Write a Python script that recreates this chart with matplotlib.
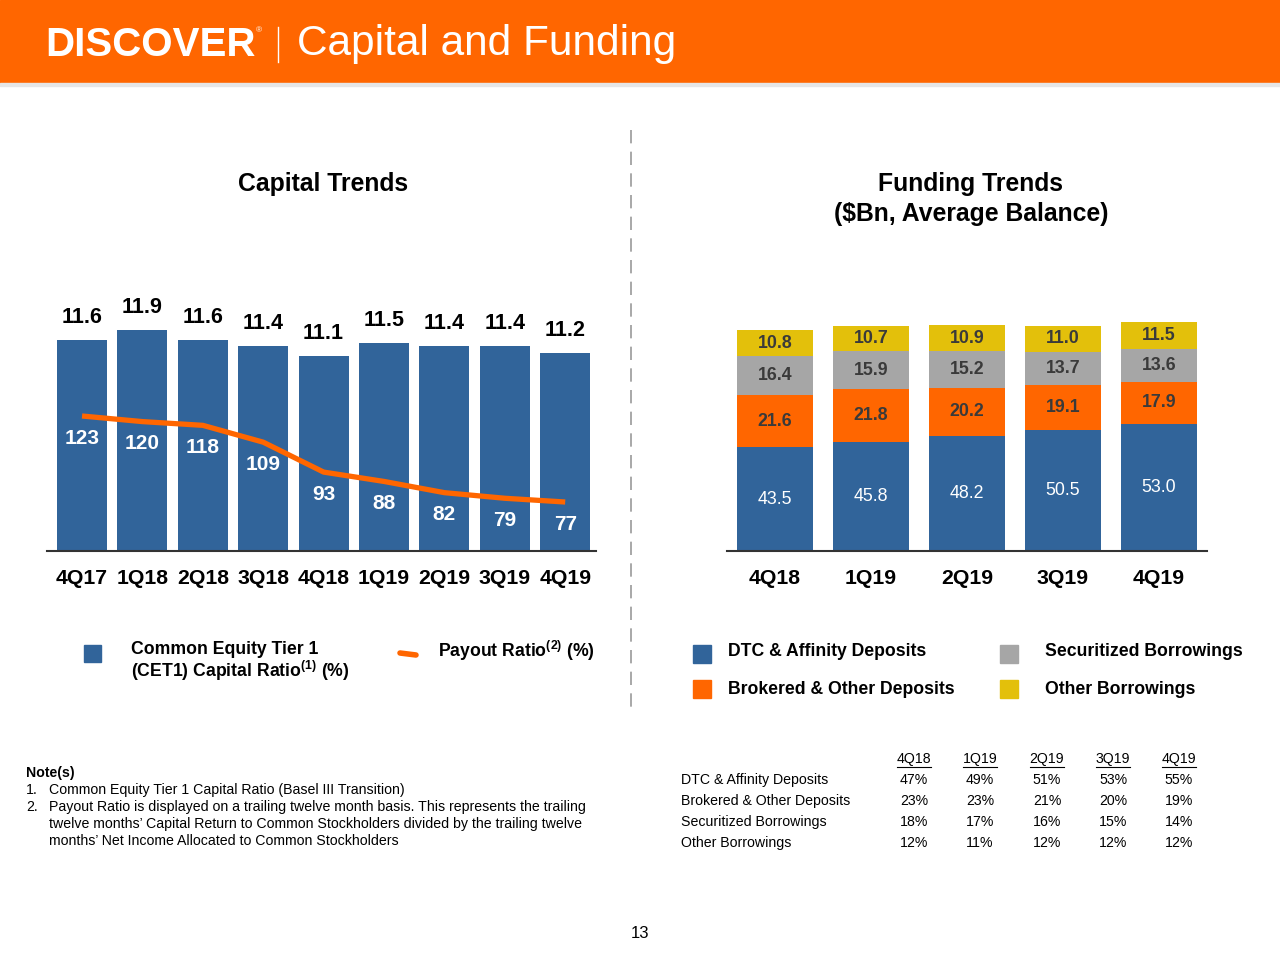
import matplotlib
matplotlib.use('Agg')
import matplotlib.pyplot as plt
from matplotlib.patches import Rectangle
from matplotlib.lines import Line2D

plt.rcParams['font.family'] = ['Liberation Sans', 'DejaVu Sans']
plt.rcParams['mathtext.fontset'] = 'custom'
plt.rcParams['mathtext.bf'] = 'Liberation Sans:bold'
plt.rcParams['mathtext.rm'] = 'Liberation Sans'
plt.rcParams['mathtext.default'] = 'bf'

# ---------------- data ----------------
cap_quarters = ['4Q17', '1Q18', '2Q18', '3Q18', '4Q18', '1Q19', '2Q19', '3Q19', '4Q19']
cet1_ratio = [11.6, 11.9, 11.6, 11.4, 11.1, 11.5, 11.4, 11.4, 11.2]
payout_ratio = [123, 120, 118, 109, 93, 88, 82, 79, 77]

fund_quarters = ['4Q18', '1Q19', '2Q19', '3Q19', '4Q19']
dtc_deposits = [43.5, 45.8, 48.2, 50.5, 53.0]
brokered_deposits = [21.6, 21.8, 20.2, 19.1, 17.9]
securitized_borrowings = [16.4, 15.9, 15.2, 13.7, 13.6]
other_borrowings = [10.8, 10.7, 10.9, 11.0, 11.5]

mix_rows = ['DTC & Affinity Deposits', 'Brokered & Other Deposits',
            'Securitized Borrowings', 'Other Borrowings']
mix_dtc = ['47%', '49%', '51%', '53%', '55%']
mix_brokered = ['23%', '23%', '21%', '20%', '19%']
mix_securitized = ['18%', '17%', '16%', '15%', '14%']
mix_other = ['12%', '11%', '12%', '12%', '12%']

# ---------------- style ----------------
BLUE = '#31649A'
ORANGE = '#FF6600'
GRAY = '#A6A6A6'
YELLOW = '#E3C00B'
DARK = '#3A3A3A'

W, H = 1280, 960
fig = plt.figure(figsize=(12.8, 9.6), dpi=100)


def fx(x):
    return x / W


def fy(y):
    return 1 - y / H


def ax_rect(l, t, r, b):
    return [fx(l), fy(b), (r - l) / W, (b - t) / H]


# ---------------- header ----------------
fig.patches.append(Rectangle((0, fy(83)), 1, 83 / H, transform=fig.transFigure,
                             color=ORANGE, zorder=0))
fig.patches.append(Rectangle((0, fy(86)), 1, 3 / H, transform=fig.transFigure,
                             color='#E6E6E6', zorder=0))
fig.text(fx(45), fy(45), 'DISCOVER', color='white', fontsize=29, fontweight='bold',
         ha='left', va='center')
fig.text(fx(256), fy(31), '®', color='white', fontsize=6, ha='left', va='center')
fig.lines.append(Line2D([fx(278), fx(278)], [fy(27), fy(62)], transform=fig.transFigure,
                        color='white', lw=1))
fig.text(fx(297), fy(44), 'Capital and Funding', color='white', fontsize=30.5,
         ha='left', va='center')

# ---------------- section titles & divider ----------------
fig.text(fx(323), fy(184), 'Capital Trends', fontsize=17.8, fontweight='bold',
         ha='center', va='center', color='black')
fig.text(fx(971), fy(184), 'Funding Trends', fontsize=17.8, fontweight='bold',
         ha='center', va='center', color='black')
fig.text(fx(971), fy(214), '($Bn, Average Balance)', fontsize=17.8, fontweight='bold',
         ha='center', va='center', color='black')
fig.lines.append(Line2D([fx(631), fx(631)], [fy(130), fy(712)], transform=fig.transFigure,
                        color='#999999', lw=1.2, dashes=(8, 5)))

# ---------------- left chart: capital trends ----------------
axL = fig.add_axes(ax_rect(47, 300, 596, 551))
xL = list(range(len(cap_quarters)))
axL.bar(xL, cet1_ratio, width=0.83, color=BLUE, zorder=2)
axL.set_xlim(-0.58, 8.51)
axL.set_ylim(5.1, 12.82)
for x, v in zip(xL, cet1_ratio):
    axL.annotate(f'{v:.1f}', (x, v), xytext=(0, 16), textcoords='offset points',
                 ha='center', va='center', fontsize=15.5, fontweight='bold', color='black')
axL.set_xticks(xL)
axL.set_xticklabels(cap_quarters, fontsize=15.3, fontweight='bold')
axL.tick_params(axis='x', length=0, pad=13)
axL.set_yticks([])
for s in ['top', 'left', 'right']:
    axL.spines[s].set_visible(False)
axL.spines['bottom'].set_color('#333333')
axL.spines['bottom'].set_linewidth(1.5)
axL.spines['bottom'].set_zorder(5)
axL.patch.set_alpha(0)

axL2 = axL.twinx()
axL2.set_ylim((646 - 551) / 1.87, (646 - 300) / 1.87)
axL2.plot(xL, payout_ratio, color=ORANGE, lw=3.8, solid_capstyle='butt', zorder=3)
for x, v in zip(xL, payout_ratio):
    axL2.annotate(f'{v}', (x, v), xytext=(0, -16), textcoords='offset points',
                  ha='center', va='center', fontsize=15, fontweight='bold', color='white')
axL2.set_yticks([])
for s in ['top', 'left', 'right', 'bottom']:
    axL2.spines[s].set_visible(False)

# left legend
fig.patches.append(Rectangle((fx(84), fy(662)), 17 / W, 17 / H, transform=fig.transFigure,
                             color=BLUE))
fig.text(fx(131), fy(650), 'Common Equity Tier 1', fontsize=12.7, fontweight='bold',
         ha='left', va='center')
fig.text(fx(131), fy(671), r'(CET1) Capital Ratio$^{(1)}$ (%)', fontsize=12.7,
         fontweight='bold', ha='left', va='center')
fig.lines.append(Line2D([fx(400), fx(416)], [fy(653), fy(655)], transform=fig.transFigure,
                        color=ORANGE, lw=4, solid_capstyle='round'))
fig.text(fx(438), fy(651), r'Payout Ratio$^{(2)}$ (%)', fontsize=12.7, fontweight='bold',
         ha='left', va='center')

# ---------------- right chart: funding trends ----------------
axR = fig.add_axes(ax_rect(727, 300, 1207, 551))
xR = list(range(len(fund_quarters)))
bottom = [0.0] * len(xR)
series = [(dtc_deposits, BLUE, 'white', 'normal'),
          (brokered_deposits, ORANGE, DARK, 'bold'),
          (securitized_borrowings, GRAY, DARK, 'bold'),
          (other_borrowings, YELLOW, DARK, 'bold')]
for vals, col, tcol, tw in series:
    axR.bar(xR, vals, width=0.79, bottom=bottom, color=col, zorder=2)
    for x, b, v in zip(xR, bottom, vals):
        axR.text(x, b + v / 2, f'{v:.1f}', ha='center', va='center', fontsize=12.8,
                 color=tcol, fontweight=tw, zorder=4)
    bottom = [b + v for b, v in zip(bottom, vals)]
axR.set_xlim(-0.5, 4.5)
axR.set_ylim(0, 251 / 2.39)
axR.set_xticks(xR)
axR.set_xticklabels(fund_quarters, fontsize=15.3, fontweight='bold')
axR.tick_params(axis='x', length=0, pad=13)
axR.set_yticks([])
for s in ['top', 'left', 'right']:
    axR.spines[s].set_visible(False)
axR.spines['bottom'].set_color('#333333')
axR.spines['bottom'].set_linewidth(1.5)
axR.spines['bottom'].set_zorder(5)
axR.patch.set_alpha(0)

# right legend
leg_items = [(693, 654, BLUE, 'DTC & Affinity Deposits', 728, 651),
             (693, 689, ORANGE, 'Brokered & Other Deposits', 728, 690),
             (1000, 654, GRAY, 'Securitized Borrowings', 1045, 651),
             (1000, 689, YELLOW, 'Other Borrowings', 1045, 690)]
for sx, sy, col, lab, tx, ty in leg_items:
    fig.patches.append(Rectangle((fx(sx), fy(sy + 9)), 18 / W, 18 / H,
                                 transform=fig.transFigure, color=col))
    fig.text(fx(tx), fy(ty), lab, fontsize=12.7, fontweight='bold',
             ha='left', va='center')

# ---------------- funding mix table ----------------
col_x = [914, 980, 1047, 1113, 1179]
for cx, q in zip(col_x, fund_quarters):
    fig.text(fx(cx), fy(759), q, fontsize=10.2, ha='center', va='center')
    fig.lines.append(Line2D([fx(cx - 17), fx(cx + 17)], [fy(767), fy(767)],
                            transform=fig.transFigure, color='black', lw=0.8))
for r, (lab, vals) in enumerate(zip(mix_rows, [mix_dtc, mix_brokered, mix_securitized, mix_other])):
    y = 780 + 21 * r
    fig.text(fx(681), fy(y), lab, fontsize=10.2, ha='left', va='center')
    for cx, v in zip(col_x, vals):
        fig.text(fx(cx), fy(y), v, fontsize=10.2, ha='center', va='center')

# ---------------- notes ----------------
fig.text(fx(26), fy(773), 'Note(s)', fontsize=10.2, fontweight='bold', ha='left', va='center')
fig.text(fx(26), fy(790), '1.', fontsize=10.2, ha='left', va='center')
fig.text(fx(49), fy(790), 'Common Equity Tier 1 Capital Ratio (Basel III Transition)',
         fontsize=10.2, ha='left', va='center')
fig.text(fx(26), fy(807), '2.', fontsize=10.2, ha='left', va='center')
note2 = ['Payout Ratio is displayed on a trailing twelve month basis. This represents the trailing',
         'twelve months\u2019 Capital Return to Common Stockholders divided by the trailing twelve',
         'months\u2019 Net Income Allocated to Common Stockholders']
for i, line in enumerate(note2):
    fig.text(fx(49), fy(807 + 17 * i), line, fontsize=10.2, ha='left', va='center')

fig.text(fx(640), fy(934), '13', fontsize=12, ha='center', va='center')

fig.savefig('out.png', dpi=100, facecolor='white')
